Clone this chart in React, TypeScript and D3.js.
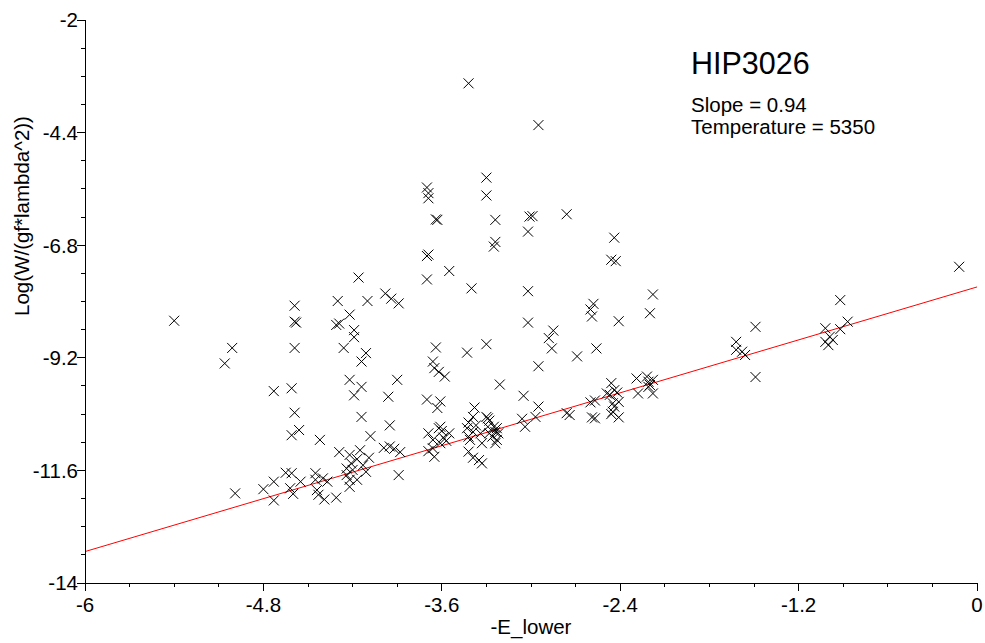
import * as d3 from "d3";

// measured lines: [-E_lower, log(W/(gf*lambda^2))]
const lowExcitation: [number, number][] = [
  [-5.40, -8.41], [-5.01, -8.99], [-5.06, -9.32], [-4.99, -12.09], [-4.80, -12.00],
  [-4.73, -11.84], [-4.73, -12.24], [-4.73, -9.91], [-4.59, -8.09], [-4.59, -8.43],
  [-4.58, -8.45], [-4.59, -8.99], [-4.61, -9.85], [-4.59, -10.37], [-4.61, -10.85],
  [-4.56, -10.74], [-4.65, -11.65], [-4.61, -11.66], [-4.62, -11.98], [-4.60, -12.10],
  [-4.55, -11.84], [-4.42, -10.95], [-4.45, -11.66], [-4.45, -11.80], [-4.40, -11.77],
  [-4.37, -11.84], [-4.44, -12.02], [-4.43, -12.12], [-4.39, -12.22], [-4.31, -12.18],
  [-4.16, -7.49], [-4.30, -7.99], [-4.10, -7.99], [-4.22, -8.28], [-4.31, -8.50],
  [-4.29, -8.47], [-4.19, -8.61], [-4.19, -8.76], [-4.26, -8.99], [-4.11, -9.10],
  [-4.14, -9.28], [-4.22, -9.67], [-4.14, -9.82], [-4.19, -10.00], [-4.14, -10.46],
  [-4.08, -10.87], [-4.29, -11.21], [-4.22, -11.27], [-4.15, -11.17], [-4.17, -11.36],
  [-4.09, -11.33], [-4.24, -11.56], [-4.21, -11.45], [-4.20, -11.59], [-4.22, -11.80],
  [-4.22, -11.95], [-4.17, -11.80], [-4.24, -11.70], [-3.98, -7.83], [-3.94, -7.94],
  [-3.89, -8.04], [-3.96, -10.03], [-3.90, -9.67], [-3.95, -10.64], [-4.13, -11.49],
  [-4.11, -11.63], [-3.99, -11.12], [-3.95, -11.09], [-3.92, -11.14], [-3.88, -11.21],
  [-3.89, -11.70],
];

const midExcitation: [number, number][] = [
  [-3.42, -3.35], [-2.95, -4.24], [-3.30, -5.36], [-3.30, -5.74], [-3.70, -5.57],
  [-3.69, -5.69], [-3.69, -5.80], [-3.64, -6.25], [-3.63, -6.26], [-3.24, -6.26],
  [-3.01, -6.19], [-2.99, -6.18], [-3.02, -6.51], [-2.76, -6.14], [-2.44, -6.64],
  [-2.46, -7.11], [-2.43, -7.14], [-3.25, -6.83], [-3.24, -6.73], [-3.70, -7.03],
  [-3.69, -7.00], [-3.55, -7.35], [-3.70, -7.53], [-3.40, -7.72], [-3.02, -7.78],
  [-2.58, -8.05], [-2.60, -8.17], [-2.59, -8.32], [-3.02, -8.45], [-2.85, -8.62],
  [-2.88, -8.78], [-2.86, -9.00], [-2.41, -8.42], [-2.56, -9.00], [-2.69, -9.17],
  [-2.95, -9.38], [-3.64, -8.98], [-3.43, -9.09], [-3.30, -8.91], [-3.66, -9.28],
  [-3.65, -9.42], [-3.62, -9.50], [-3.58, -9.60], [-3.21, -9.77], [-3.70, -10.09],
  [-3.61, -10.13], [-3.63, -10.27], [-3.05, -10.01], [-2.95, -10.24], [-2.97, -10.46],
  [-3.06, -10.50], [-3.04, -10.67], [-2.76, -10.38], [-2.74, -10.42], [-2.60, -10.15],
  [-2.57, -10.11], [-2.59, -10.47], [-2.57, -10.49], [-3.69, -10.81], [-3.66, -10.95],
  [-3.62, -10.70], [-3.60, -10.76], [-3.59, -10.90], [-3.57, -10.97], [-3.55, -10.81],
  [-3.61, -11.02], [-3.66, -11.13], [-3.69, -11.19], [-3.65, -11.31], [-3.61, -10.67],
  [-3.38, -10.26], [-3.39, -10.46], [-3.42, -10.58], [-3.37, -10.64], [-3.43, -10.70],
  [-3.39, -10.78], [-3.42, -10.88], [-3.34, -10.81], [-3.33, -11.02], [-3.41, -10.95],
  [-3.42, -11.20], [-3.39, -11.33], [-3.35, -11.38], [-3.33, -11.45], [-3.30, -10.46],
  [-3.29, -10.49], [-3.28, -10.54], [-3.25, -10.67], [-3.23, -10.70], [-3.24, -10.78],
  [-3.28, -10.81], [-3.22, -10.81], [-3.26, -10.88], [-3.23, -10.95], [-3.24, -11.02],
  [-3.29, -10.67],
];

const highExcitation: [number, number][] = [
  [-2.46, -9.74], [-2.44, -9.89], [-2.42, -9.94], [-2.49, -9.96], [-2.47, -9.99],
  [-2.45, -10.17], [-2.41, -10.14], [-2.44, -10.24], [-2.45, -10.35], [-2.46, -10.40],
  [-2.41, -10.47], [-2.29, -9.64], [-2.22, -9.60], [-2.21, -9.71], [-2.20, -9.78],
  [-2.18, -9.67], [-2.28, -9.96], [-2.21, -9.82], [-2.18, -9.96], [-2.18, -7.85],
  [-2.20, -8.25], [-1.49, -8.54], [-1.62, -8.86], [-1.62, -9.03], [-1.58, -9.07],
  [-1.56, -9.14], [-1.49, -9.61], [-0.92, -7.97], [-0.87, -8.43], [-1.02, -8.57],
  [-0.92, -8.59], [-0.99, -8.75], [-0.97, -8.82], [-1.02, -8.86], [-1.00, -8.93],
  [-0.12, -7.26],
];

const xTicks = [-6, -4.8, -3.6, -2.4, -1.2, 0];
const yTicks = [-14, -11.6, -9.2, -6.8, -4.4, -2];
const fitSlope = 0.94;
const fitIntercept = -7.69;
const starName = "HIP3026";
const temperature = 5350;

const FONT = "'Liberation Sans', Arial, sans-serif";

export default function App() {
  const W = 985;
  const H = 643;

  const x = d3.scaleLinear().domain([-6, 0]).range([85, 977]);
  const y = d3.scaleLinear().domain([-14, -2]).range([583, 20]);

  const points = [...lowExcitation, ...midExcitation, ...highExcitation];
  const xMinor = d3.range(0, 21).map((i) => -6 + i * 0.3);
  const yMinor = d3.range(0, 21).map((i) => -14 + i * 0.6);

  const fit = d3
    .line<number>()
    .x((d) => x(d))
    .y((d) => y(fitIntercept + fitSlope * d));

  const s = 5;

  return (
    <svg
      width={W}
      height={H}
      style={{ position: "absolute", left: 0, top: 0, background: "#fff" }}
      fontFamily={FONT}
    >
      {/* fit line */}
      <path d={fit([-6, 0]) ?? ""} fill="none" stroke="#ff0000" strokeWidth={1} />

      {/* markers */}
      <g stroke="#000" strokeWidth={1}>
        {points.map(([e, w], i) => {
          const cx = x(e);
          const cy = y(w);
          return (
            <path
              key={i}
              d={`M${cx - s},${cy - s}L${cx + s},${cy + s}M${cx - s},${cy + s}L${cx + s},${cy - s}`}
            />
          );
        })}
      </g>

      {/* axes */}
      <g stroke="#000" strokeWidth={1} shapeRendering="crispEdges">
        <line x1={x(-6)} x2={x(0)} y1={y(-14)} y2={y(-14)} />
        <line x1={x(-6)} x2={x(-6)} y1={y(-14)} y2={y(-2)} />
        {xMinor.map((v, i) => (
          <line key={"xm" + i} x1={x(v)} x2={x(v)} y1={y(-14)} y2={y(-14) + (i % 4 === 0 ? 8 : 4)} />
        ))}
        {yMinor.map((v, i) => (
          <line key={"ym" + i} x1={x(-6)} x2={x(-6) - (i % 4 === 0 ? 8 : 4)} y1={y(v)} y2={y(v)} />
        ))}
      </g>

      <g fontSize={20.5} fill="#000">
        {xTicks.map((v) => (
          <text key={"xt" + v} x={x(v)} y={612} textAnchor="middle">
            {String(v)}
          </text>
        ))}
        {yTicks.map((v) => (
          <text key={"yt" + v} x={78} y={y(v)} dy="0.36em" textAnchor="end">
            {String(v)}
          </text>
        ))}
        <text x={(x(-6) + x(0)) / 2} y={634} textAnchor="middle">
          -E_lower
        </text>
        <text transform="translate(29,216) rotate(-90)" textAnchor="middle">
          Log(W/(gf*lambda^2))
        </text>
      </g>

      <text x={691} y={74} fontSize={30.5}>
        {starName}
      </text>
      <text x={691} y={112} fontSize={20.5}>
        Slope = {fitSlope.toFixed(2)}
      </text>
      <text x={691} y={134} fontSize={20.5}>
        Temperature = {temperature}
      </text>
    </svg>
  );
}
